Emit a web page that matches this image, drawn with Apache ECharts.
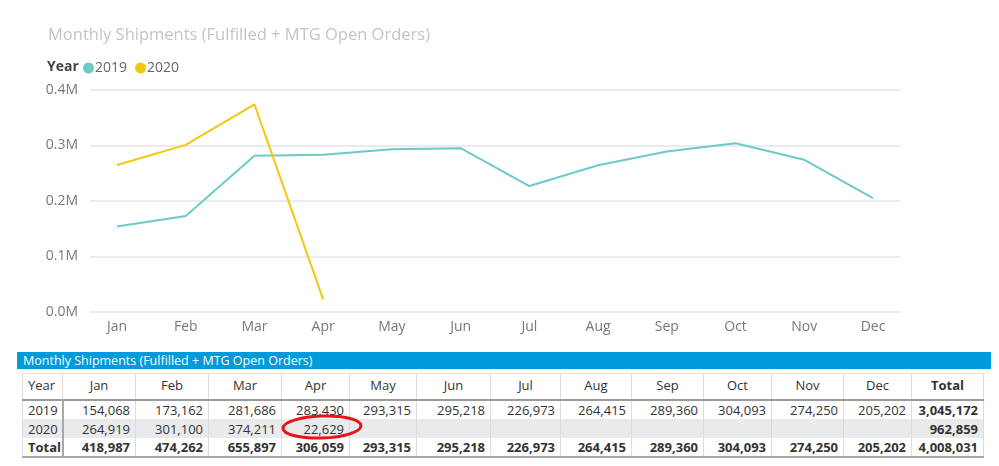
<!DOCTYPE html>
<html>
<head>
<meta charset="utf-8">
<script src="https://cdn.jsdelivr.net/npm/echarts@6/dist/echarts.min.js"></script>
<style>
  html, body { margin: 0; padding: 0; background: #fff; }
  body { width: 999px; height: 466px; position: relative; overflow: hidden; font-family: "Open Sans", "Noto Sans", sans-serif; }
  #chart { position: absolute; left: 0; top: 0; width: 999px; height: 345px; }
  #tblTitle { position: absolute; left: 17px; top: 352px; width: 968px; height: 17px; line-height: 17px;
    background: #019ADB; color: #fff; font-size: 12.5px; padding-left: 6px; white-space: nowrap; }
  #tbl { position: absolute; left: 22px; top: 373px; width: 961px; border-collapse: collapse; font-size: 13px; color: #333; table-layout: fixed; }
  #tbl td, #tbl th { padding: 0 5px; white-space: nowrap; overflow: hidden; }
  #tbl th { height: 22px; padding-bottom: 3px; font-weight: normal; text-align: center; border-left: 1px solid #dcdcdc; border-right: 1px solid #dcdcdc; border-top: 1px solid #e4e4e4;}
  #tbl th.first { text-align: left; }
  #tbl th.tot { font-weight: bold; }
  #tbl thead tr { border-bottom: 2px solid #9a9a9a; }
  #tbl td { height: 18px; text-align: right; border-left: 1px solid #dcdcdc; border-right: 1px solid #dcdcdc; }
  #tbl td.first { text-align: left; border-right: 2px solid #a8a8a8; }
  #tbl tr.r2020 td { background: #e9eaeb; height: 19px; }
  #tbl tr.rtot td { font-weight: bold; border-bottom: 2px solid #a8a8a8; }
  #ring { position: absolute; left: 0; top: 0; pointer-events: none; }
</style>
</head>
<body>
<div id="chart"></div>
<div id="tblTitle">Monthly Shipments (Fulfilled + MTG Open Orders)</div>
<table id="tbl"></table>
<svg id="ring" width="999" height="466">
  <ellipse cx="322" cy="427" rx="39" ry="11" fill="none" stroke="#e8141b" stroke-width="3" transform="rotate(-2 322 427)"/>
</svg>
<script>
// ---- data ----
var months = ['Jan','Feb','Mar','Apr','May','Jun','Jul','Aug','Sep','Oct','Nov','Dec'];
var years = ['2019','2020'];
var values2019 = [154068,173162,281686,283430,293315,295218,226973,264415,289360,304093,274250,205202];
var values2020 = [264919,301100,374211,22629];
var chartTitle = 'Monthly Shipments (Fulfilled + MTG Open Orders)';
var yTicks = [0, 100000, 200000, 300000, 400000];

// ---- chart ----
var teal = '#6CCBC6', gold = '#F2C80F';
var chart = echarts.init(document.getElementById('chart'));
var font = '"Open Sans", "Noto Sans", sans-serif';
chart.setOption({
  animation: false,
  textStyle: { fontFamily: font },
  title: [
    { text: chartTitle, left: 43, top: 22, textStyle: { fontSize: 16.5, fontWeight: 'normal', color: '#c4c4c4', fontFamily: font } },
    { text: 'Year', left: 42, top: 55, textStyle: { fontSize: 14, fontWeight: 'bold', color: '#444', fontFamily: font } }
  ],
  legend: {
    left: 78, top: 56, icon: 'circle', itemWidth: 11, itemHeight: 11, itemGap: 8,
    data: years,
    textStyle: { fontSize: 14, color: '#666', padding: [0,0,0,-4] }
  },
  grid: [
    { left: 90, right: 99, top: 90, bottom: 33 },
    { left: 117, right: 126, top: 90, bottom: 33 }
  ],
  xAxis: [
    { type: 'category', gridIndex: 0, data: months, show: false },
    { type: 'category', gridIndex: 1, data: months, boundaryGap: false,
      axisLine: { show: false }, axisTick: { show: false },
      axisLabel: { color: '#777', fontSize: 14, margin: 8 } }
  ],
  yAxis: [
    { type: 'value', gridIndex: 0, min: yTicks[0], max: yTicks[yTicks.length-1], interval: 100000,
      axisLine: { show: false }, axisTick: { show: false },
      axisLabel: { color: '#777', fontSize: 14, margin: 12, formatter: function (v) { return (v/1e6).toFixed(1) + 'M'; } },
      splitLine: { lineStyle: { color: '#ebebeb', width: 2 } } },
    { type: 'value', gridIndex: 1, min: yTicks[0], max: yTicks[yTicks.length-1], show: false }
  ],
  series: [
    { name: years[0], type: 'line', xAxisIndex: 1, yAxisIndex: 1, data: values2019, showSymbol: false,
      lineStyle: { color: teal, width: 2 }, itemStyle: { color: teal } },
    { name: years[1], type: 'line', xAxisIndex: 1, yAxisIndex: 1, data: values2020, showSymbol: false,
      lineStyle: { color: gold, width: 2 }, itemStyle: { color: gold } }
  ]
});

// ---- table ----
var colW = [40,73,73,73,68,67,74,70,71,72,68,72,68,72];
function fmt(n) { return n == null ? '' : n.toLocaleString('en-US'); }
function sum(a) { return a.reduce(function (s, v) { return s + (v || 0); }, 0); }
var tbl = document.getElementById('tbl');
var html = '<colgroup>' + colW.map(function (w) { return '<col style="width:' + w + 'px">'; }).join('') + '</colgroup>';
html += '<thead><tr><th class="first">Year</th>' + months.map(function (m) { return '<th>' + m + '</th>'; }).join('') + '<th class="tot">Total</th></tr></thead><tbody>';
var rows = [[years[0], values2019, 'r2019'], [years[1], values2020, 'r2020']];
rows.forEach(function (r) {
  html += '<tr class="' + r[2] + '"><td class="first">' + r[0] + '</td>';
  for (var i = 0; i < months.length; i++) html += '<td>' + fmt(r[1][i]) + '</td>';
  html += '<td style="font-weight:bold">' + fmt(sum(r[1])) + '</td></tr>';
});
html += '<tr class="rtot"><td class="first">Total</td>';
for (var i = 0; i < months.length; i++) html += '<td>' + fmt((values2019[i] || 0) + (values2020[i] || 0)) + '</td>';
html += '<td>' + fmt(sum(values2019) + sum(values2020)) + '</td></tr></tbody>';
tbl.innerHTML = html;
</script>
</body>
</html>
